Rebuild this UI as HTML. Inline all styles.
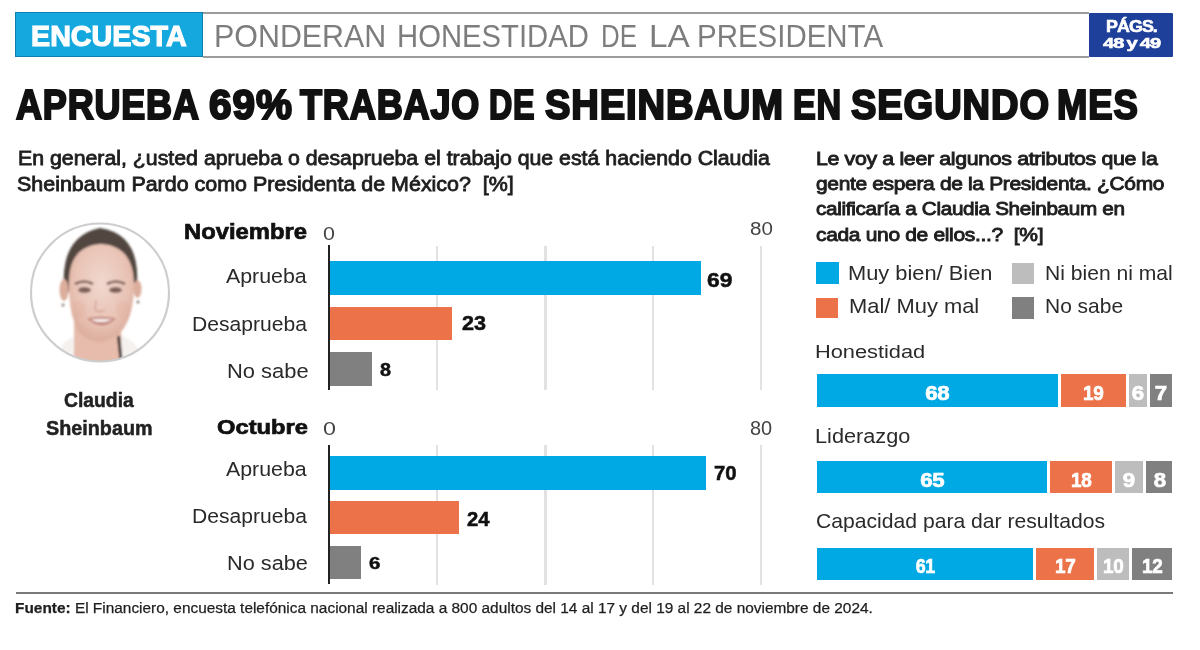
<!DOCTYPE html>
<html lang="es"><head><meta charset="utf-8"><title>Aprueba 69% trabajo de Sheinbaum en segundo mes</title>
<style>
html,body{margin:0;padding:0;background:#fff;}
body{width:1200px;height:650px;position:relative;overflow:hidden;font-family:"Liberation Sans", Arial, sans-serif;filter:blur(0.6px);}
.t{position:absolute;white-space:nowrap;transform-origin:0 50%;}
.r{position:absolute;}
.seg{position:absolute;display:flex;align-items:center;justify-content:center;color:#fff;font-weight:700;font-family:"Liberation Sans", Arial, sans-serif;white-space:nowrap;-webkit-text-stroke-width:0.7px;letter-spacing:-0.5px;}
</style></head><body>

<div class="r" style="left:203px;top:11.5px;width:886px;height:46.5px;box-sizing:border-box;border:2.8px solid #9c9c9c;border-left:none;border-right:none;"></div>
<div class="r" style="left:15px;top:12px;width:188px;height:45px;box-sizing:border-box;background:#14a8df;border:1px solid #0d7fae;"></div>
<div class="r" style="left:1088.5px;top:13px;width:84.5px;height:44px;background:#1f409a;border-radius:1px;"></div>
<svg class="r" style="left:0;top:200px" width="200" height="185" viewBox="0 200 200 185">
<defs><clipPath id="cc"><circle cx="100" cy="292.5" r="69"/></clipPath>
<filter id="bl" x="-10%" y="-10%" width="120%" height="120%"><feGaussianBlur stdDeviation="1.1"/></filter>
<radialGradient id="sk" cx="0.5" cy="0.4" r="0.6"><stop offset="0" stop-color="#f1d8cf"/><stop offset="0.7" stop-color="#e8c2b4"/><stop offset="1" stop-color="#dcad9c"/></radialGradient></defs>
<circle cx="100" cy="292.5" r="69" fill="#ffffff"/>
<g clip-path="url(#cc)" filter="url(#bl)">
<path d="M58 372 L62 345 Q68 338 78 336 L122 336 Q132 340 140 350 L142 372 Z" fill="#f4f1ef"/>
<path d="M74 322 L74 372 L122 372 L121 322 Z" fill="#e7bcac"/>
<path d="M64 290 Q60 236 100 228 Q140 234 137 284 L133 283 Q128 250 100 246 Q72 250 69 292 Z" fill="#514641"/>
<path d="M69 285 Q68 246 101 244 Q134 246 134 285 Q134 318 120 333 Q108 342 99 342 Q88 341 80 333 Q69 318 69 285 Z" fill="url(#sk)"/>
<ellipse cx="64" cy="290" rx="4.5" ry="11" fill="#dcae9c"/>
<ellipse cx="137.5" cy="289" rx="4" ry="9" fill="#dcae9c"/>
<path d="M75 284 Q84 279 93 284" stroke="#7d5f58" stroke-width="2.6" fill="none"/>
<path d="M107 284 Q116 279 125 284" stroke="#7d5f58" stroke-width="2.6" fill="none"/>
<ellipse cx="84.5" cy="290" rx="6.5" ry="3" fill="#7e625b"/>
<ellipse cx="115.5" cy="290" rx="6.5" ry="3" fill="#7e625b"/>
<path d="M96 300 L95 310 Q100 313 105 310" stroke="#d3a291" stroke-width="1.4" fill="none"/>
<ellipse cx="79" cy="310" rx="7" ry="9" fill="#e2ad9c" opacity="0.3"/>
<ellipse cx="123" cy="310" rx="7" ry="9" fill="#e2ad9c" opacity="0.3"/>
<path d="M87 318.5 Q101 315 116 318.5 Q102 332 87 318.5 Z" fill="#c07f76"/>
<path d="M90 319.5 Q101 318 113 319.5 Q101 325 90 319.5 Z" fill="#f6ece8"/>
<path d="M118.5 336 L121 360" stroke="#3a302e" stroke-width="3"/>
<circle cx="63" cy="305" r="1.5" fill="#8a7a70"/>
<circle cx="138" cy="302" r="1.5" fill="#8a7a70"/>
</g>
<circle cx="100" cy="292.5" r="69" fill="none" stroke="#cdcdcd" stroke-width="2.2"/>
</svg>
<div class="r" style="left:435.8px;top:245.5px;width:2.4px;height:144.0px;background:#e2e2e2;"></div>
<div class="r" style="left:544.3px;top:245.5px;width:2.4px;height:144.0px;background:#e2e2e2;"></div>
<div class="r" style="left:651.8px;top:245.5px;width:2.4px;height:144.0px;background:#e2e2e2;"></div>
<div class="r" style="left:759.8px;top:245.5px;width:2.4px;height:144.0px;background:#e2e2e2;"></div>
<div class="r" style="left:435.8px;top:444.8px;width:2.4px;height:139.8px;background:#e2e2e2;"></div>
<div class="r" style="left:544.3px;top:444.8px;width:2.4px;height:139.8px;background:#e2e2e2;"></div>
<div class="r" style="left:651.8px;top:444.8px;width:2.4px;height:139.8px;background:#e2e2e2;"></div>
<div class="r" style="left:759.8px;top:444.8px;width:2.4px;height:139.8px;background:#e2e2e2;"></div>
<div class="r" style="left:330px;top:260.5px;width:371px;height:34.30000000000001px;background:#00a9e3;"></div>
<div class="r" style="left:330px;top:306.7px;width:122.19999999999999px;height:33.80000000000001px;background:#ec7249;"></div>
<div class="r" style="left:330px;top:352px;width:41.5px;height:34.39999999999998px;background:#808080;"></div>
<div class="r" style="left:330px;top:456.3px;width:376px;height:33.69999999999999px;background:#00a9e3;"></div>
<div class="r" style="left:330px;top:501.2px;width:128.8px;height:32.599999999999966px;background:#ec7249;"></div>
<div class="r" style="left:330px;top:545.5px;width:30.5px;height:33.299999999999955px;background:#808080;"></div>
<div class="r" style="left:328.2px;top:245px;width:2.2px;height:145px;background:#222;"></div>
<div class="r" style="left:328.2px;top:444.8px;width:2.2px;height:139.7px;background:#222;"></div>
<div class="r" style="left:816px;top:262px;width:22.5px;height:22px;background:#00a9e3;"></div>
<div class="r" style="left:816px;top:297.5px;width:21.5px;height:20.0px;background:#ec7249;"></div>
<div class="r" style="left:1012px;top:262.5px;width:22px;height:21.5px;background:#bdbdbd;"></div>
<div class="r" style="left:1012px;top:297px;width:22px;height:21.5px;background:#808080;"></div>
<div class="seg" style="left:817px;top:374.3px;width:240.50px;height:32.70px;background:#00a9e3;font-size:21px;"><span id="seg0" style="display:inline-block;transform:translateY(1.8px) scaleX(1.06);">68</span></div>
<div class="seg" style="left:1061px;top:374.3px;width:64.50px;height:32.70px;background:#ec7249;font-size:21px;"><span id="seg1" style="display:inline-block;transform:translateY(1.8px) scaleX(0.9);">19</span></div>
<div class="seg" style="left:1129px;top:374.3px;width:18.00px;height:32.70px;background:#bdbdbd;font-size:21px;"><span id="seg2" style="display:inline-block;transform:translateY(1.8px) scaleX(1.06);">6</span></div>
<div class="seg" style="left:1149.5px;top:374.3px;width:22.50px;height:32.70px;background:#808080;font-size:21px;"><span id="seg3" style="display:inline-block;transform:translateY(1.8px) scaleX(1.06);">7</span></div>
<div class="seg" style="left:817px;top:460.8px;width:230.30px;height:32.40px;background:#00a9e3;font-size:21px;"><span id="seg4" style="display:inline-block;transform:translateY(2.8px) scaleX(1.06);">65</span></div>
<div class="seg" style="left:1050px;top:460.8px;width:62.00px;height:32.40px;background:#ec7249;font-size:21px;"><span id="seg5" style="display:inline-block;transform:translateY(2.8px) scaleX(0.9);">18</span></div>
<div class="seg" style="left:1114.5px;top:460.8px;width:28.50px;height:32.40px;background:#bdbdbd;font-size:21px;"><span id="seg6" style="display:inline-block;transform:translateY(2.8px) scaleX(1.06);">9</span></div>
<div class="seg" style="left:1146.3px;top:460.8px;width:26.20px;height:32.40px;background:#808080;font-size:21px;"><span id="seg7" style="display:inline-block;transform:translateY(2.8px) scaleX(1.06);">8</span></div>
<div class="seg" style="left:817px;top:547.8px;width:216.30px;height:32.50px;background:#00a9e3;font-size:21px;"><span id="seg8" style="display:inline-block;transform:translateY(1.8px) scaleX(0.85);">61</span></div>
<div class="seg" style="left:1036.3px;top:547.8px;width:57.40px;height:32.50px;background:#ec7249;font-size:21px;"><span id="seg9" style="display:inline-block;transform:translateY(1.8px) scaleX(0.9);">17</span></div>
<div class="seg" style="left:1096.7px;top:547.8px;width:32.30px;height:32.50px;background:#bdbdbd;font-size:21px;"><span id="seg10" style="display:inline-block;transform:translateY(1.8px) scaleX(0.9);">10</span></div>
<div class="seg" style="left:1131.7px;top:547.8px;width:40.30px;height:32.50px;background:#808080;font-size:21px;"><span id="seg11" style="display:inline-block;transform:translateY(1.8px) scaleX(0.9);">12</span></div>
<div class="r" style="left:16px;top:591.5px;width:1157px;height:2px;background:#7a7a7a;"></div>
<div class="t" id="enc" style="left:31.06px;top:21.20px;font-size:29.65px;line-height:29.65px;font-weight:700;color:#ffffff;transform:scaleX(0.9675);-webkit-text-stroke-width:1.2px;">ENCUESTA</div>
<div class="t" id="pond0" style="left:214.00px;top:20.66px;font-size:30.52px;line-height:30.52px;font-weight:400;color:#7d7d7d;transform:scaleX(0.9962);">PONDERAN</div>
<div class="t" id="pond1" style="left:397.10px;top:20.66px;font-size:30.52px;line-height:30.52px;font-weight:400;color:#7d7d7d;transform:scaleX(0.9591);">HONESTIDAD</div>
<div class="t" id="pond2" style="left:601.31px;top:20.66px;font-size:30.52px;line-height:30.52px;font-weight:400;color:#7d7d7d;transform:scaleX(0.8477);">DE</div>
<div class="t" id="pond3" style="left:649.17px;top:20.66px;font-size:30.52px;line-height:30.52px;font-weight:400;color:#7d7d7d;transform:scaleX(1.0929);">LA</div>
<div class="t" id="pond4" style="left:697.06px;top:20.66px;font-size:30.52px;line-height:30.52px;font-weight:400;color:#7d7d7d;transform:scaleX(0.9655);">PRESIDENTA</div>
<div class="t" id="pags" style="left:1105.84px;top:19.29px;font-size:15.84px;line-height:15.84px;font-weight:700;color:#ffffff;transform:scaleX(1.1249);-webkit-text-stroke-width:0.6px;letter-spacing:-0.8px;">P&Aacute;GS.</div>
<div class="t" id="pg4849" style="left:1103.45px;top:35.02px;font-size:15.40px;line-height:15.40px;font-weight:700;color:#ffffff;transform:scaleX(1.3049);-webkit-text-stroke-width:0.6px;letter-spacing:-0.8px;word-spacing:-1px;">48 y 49</div>
<div class="t" id="head0" style="left:15.90px;top:83.45px;font-size:42.59px;line-height:42.59px;font-weight:700;color:#111111;transform:scaleX(0.8446);-webkit-text-stroke-width:2.2px;letter-spacing:1px;">APRUEBA</div>
<div class="t" id="head1" style="left:208.92px;top:83.45px;font-size:42.59px;line-height:42.59px;font-weight:700;color:#111111;transform:scaleX(0.9509);-webkit-text-stroke-width:2.2px;letter-spacing:1px;">69%</div>
<div class="t" id="head2" style="left:299.99px;top:83.45px;font-size:42.59px;line-height:42.59px;font-weight:700;color:#111111;transform:scaleX(0.8467);-webkit-text-stroke-width:2.2px;letter-spacing:1px;">TRABAJO</div>
<div class="t" id="head3" style="left:489.25px;top:83.45px;font-size:42.59px;line-height:42.59px;font-weight:700;color:#111111;transform:scaleX(0.7567);-webkit-text-stroke-width:2.2px;letter-spacing:1px;">DE</div>
<div class="t" id="head4" style="left:544.88px;top:83.45px;font-size:42.59px;line-height:42.59px;font-weight:700;color:#111111;transform:scaleX(0.8953);-webkit-text-stroke-width:2.2px;letter-spacing:1px;">SHEINBAUM</div>
<div class="t" id="head5" style="left:793.24px;top:83.45px;font-size:42.59px;line-height:42.59px;font-weight:700;color:#111111;transform:scaleX(0.8020);-webkit-text-stroke-width:2.2px;letter-spacing:1px;">EN</div>
<div class="t" id="head6" style="left:850.87px;top:83.45px;font-size:42.59px;line-height:42.59px;font-weight:700;color:#111111;transform:scaleX(0.8950);-webkit-text-stroke-width:2.2px;letter-spacing:1px;">SEGUNDO</div>
<div class="t" id="head7" style="left:1057.19px;top:83.45px;font-size:42.59px;line-height:42.59px;font-weight:700;color:#111111;transform:scaleX(0.8562);-webkit-text-stroke-width:2.2px;letter-spacing:1px;">MES</div>
<div class="t" id="ql1" style="left:17.92px;top:149.24px;font-size:19.91px;line-height:19.91px;font-weight:400;color:#1e1e1e;transform:scaleX(1.0699);-webkit-text-stroke-width:0.8px;">En general, &iquest;usted aprueba o desaprueba el trabajo que est&aacute; haciendo Claudia</div>
<div class="t" id="ql2" style="left:16.91px;top:174.74px;font-size:19.91px;line-height:19.91px;font-weight:400;color:#1e1e1e;transform:scaleX(1.0767);-webkit-text-stroke-width:0.8px;">Sheinbaum Pardo como Presidenta de M&eacute;xico?&nbsp; [%]</div>
<div class="t" id="qr1" style="left:816.28px;top:149.96px;font-size:18.90px;line-height:18.90px;font-weight:400;color:#1e1e1e;transform:scaleX(1.1286);-webkit-text-stroke-width:0.9px;letter-spacing:-0.3px;">Le voy a leer algunos atributos que la</div>
<div class="t" id="qr2" style="left:816.41px;top:175.36px;font-size:18.90px;line-height:18.90px;font-weight:400;color:#1e1e1e;transform:scaleX(1.1097);-webkit-text-stroke-width:0.9px;letter-spacing:-0.3px;">gente espera de la Presidenta. &iquest;C&oacute;mo</div>
<div class="t" id="qr3" style="left:816.42px;top:200.36px;font-size:18.90px;line-height:18.90px;font-weight:400;color:#1e1e1e;transform:scaleX(1.0956);-webkit-text-stroke-width:0.9px;letter-spacing:-0.3px;">calificar&iacute;a a Claudia Sheinbaum en</div>
<div class="t" id="qr4" style="left:816.40px;top:225.96px;font-size:18.90px;line-height:18.90px;font-weight:400;color:#1e1e1e;transform:scaleX(1.1117);-webkit-text-stroke-width:0.9px;letter-spacing:-0.3px;">cada uno de ellos...?&nbsp; [%]</div>
<div class="t" id="lg1" style="left:848.49px;top:262.73px;font-size:20.64px;line-height:20.64px;font-weight:400;color:#2a2a2a;transform:scaleX(1.0587);">Muy bien/ Bien</div>
<div class="t" id="lg2" style="left:848.51px;top:296.33px;font-size:20.64px;line-height:20.64px;font-weight:400;color:#2a2a2a;transform:scaleX(1.0619);">Mal/ Muy mal</div>
<div class="t" id="lg3" style="left:1045.17px;top:262.73px;font-size:20.64px;line-height:20.64px;font-weight:400;color:#2a2a2a;transform:scaleX(1.0218);">Ni bien ni mal</div>
<div class="t" id="lg4" style="left:1045.18px;top:296.33px;font-size:20.64px;line-height:20.64px;font-weight:400;color:#2a2a2a;transform:scaleX(1.0164);">No sabe</div>
<div class="t" id="hon" style="left:814.92px;top:342.51px;font-size:18.90px;line-height:18.90px;font-weight:400;color:#2a2a2a;transform:scaleX(1.1529);">Honestidad</div>
<div class="t" id="lid" style="left:814.95px;top:426.94px;font-size:19.33px;line-height:19.33px;font-weight:400;color:#2a2a2a;transform:scaleX(1.1230);">Liderazgo</div>
<div class="t" id="cap" style="left:815.98px;top:510.71px;font-size:20.78px;line-height:20.78px;font-weight:400;color:#2a2a2a;transform:scaleX(1.0177);">Capacidad para dar resultados</div>
<div class="t" id="nov" style="left:183.92px;top:220.63px;font-size:21.88px;line-height:21.88px;font-weight:700;color:#111111;transform:scaleX(1.0873);-webkit-text-stroke-width:0.7px;">Noviembre</div>
<div class="t" id="oct" style="left:216.88px;top:416.56px;font-size:20.78px;line-height:20.78px;font-weight:700;color:#111111;transform:scaleX(1.1419);-webkit-text-stroke-width:0.7px;">Octubre</div>
<div class="t" id="ap1" style="left:226.00px;top:264.66px;font-size:21.08px;line-height:21.08px;font-weight:400;color:#2a2a2a;transform:scaleX(1.0125);">Aprueba</div>
<div class="t" id="de1" style="left:191.73px;top:313.72px;font-size:20.71px;line-height:20.71px;font-weight:400;color:#2a2a2a;transform:scaleX(1.0185);">Desaprueba</div>
<div class="t" id="ns1" style="left:226.69px;top:360.16px;font-size:21.08px;line-height:21.08px;font-weight:400;color:#2a2a2a;transform:scaleX(1.0395);">No sabe</div>
<div class="t" id="ap2" style="left:226.00px;top:457.66px;font-size:21.08px;line-height:21.08px;font-weight:400;color:#2a2a2a;transform:scaleX(1.0125);">Aprueba</div>
<div class="t" id="de2" style="left:191.70px;top:505.77px;font-size:20.35px;line-height:20.35px;font-weight:400;color:#2a2a2a;transform:scaleX(1.0364);">Desaprueba</div>
<div class="t" id="ns2" style="left:226.64px;top:553.27px;font-size:20.35px;line-height:20.35px;font-weight:400;color:#2a2a2a;transform:scaleX(1.0678);">No sabe</div>
<div class="t" id="z1" style="left:322.85px;top:223.57px;font-size:19.07px;line-height:19.07px;font-weight:400;color:#444444;transform:scaleX(1.1264);">0</div>
<div class="t" id="e1" style="left:749.93px;top:219.15px;font-size:19.21px;line-height:19.21px;font-weight:400;color:#444444;transform:scaleX(1.0737);">80</div>
<div class="t" id="z2" style="left:322.62px;top:418.87px;font-size:19.07px;line-height:19.07px;font-weight:400;color:#444444;transform:scaleX(1.2222);">0</div>
<div class="t" id="e2" style="left:749.97px;top:418.51px;font-size:19.49px;line-height:19.49px;font-weight:400;color:#444444;transform:scaleX(1.0227);">80</div>
<div class="t" id="v69" style="left:706.80px;top:270.86px;font-size:19.49px;line-height:19.49px;font-weight:700;color:#111111;transform:scaleX(1.1694);-webkit-text-stroke-width:0.5px;">69</div>
<div class="t" id="v23" style="left:461.88px;top:313.82px;font-size:19.77px;line-height:19.77px;font-weight:700;color:#111111;transform:scaleX(1.0928);-webkit-text-stroke-width:0.5px;">23</div>
<div class="t" id="v8" style="left:379.80px;top:362.03px;font-size:17.66px;line-height:17.66px;font-weight:700;color:#111111;transform:scaleX(1.1203);-webkit-text-stroke-width:0.5px;">8</div>
<div class="t" id="v70" style="left:714.10px;top:464.32px;font-size:19.77px;line-height:19.77px;font-weight:700;color:#111111;transform:scaleX(1.0278);-webkit-text-stroke-width:0.5px;">70</div>
<div class="t" id="v24" style="left:466.74px;top:509.62px;font-size:19.77px;line-height:19.77px;font-weight:700;color:#111111;transform:scaleX(1.0246);-webkit-text-stroke-width:0.5px;">24</div>
<div class="t" id="v6" style="left:368.84px;top:556.49px;font-size:16.95px;line-height:16.95px;font-weight:700;color:#111111;transform:scaleX(1.2089);-webkit-text-stroke-width:0.5px;">6</div>
<div class="t" id="cl" style="left:64.06px;top:389.55px;font-size:20.20px;line-height:20.20px;font-weight:700;color:#222222;transform:scaleX(0.9570);-webkit-text-stroke-width:0.5px;">Claudia</div>
<div class="t" id="sh" style="left:46.03px;top:416.91px;font-size:21.08px;line-height:21.08px;font-weight:700;color:#222222;transform:scaleX(0.9378);-webkit-text-stroke-width:0.5px;">Sheinbaum</div>
<div class="t" id="foot" style="left:14.99px;top:599.71px;font-size:15.26px;line-height:15.26px;font-weight:400;color:#1e1e1e;transform:scaleX(1.0098);-webkit-text-stroke-width:0.25px;"><b>Fuente:</b> El Financiero, encuesta telef&oacute;nica nacional realizada a 800 adultos del 14 al 17 y del 19 al 22 de noviembre de 2024.</div>
</body></html>
